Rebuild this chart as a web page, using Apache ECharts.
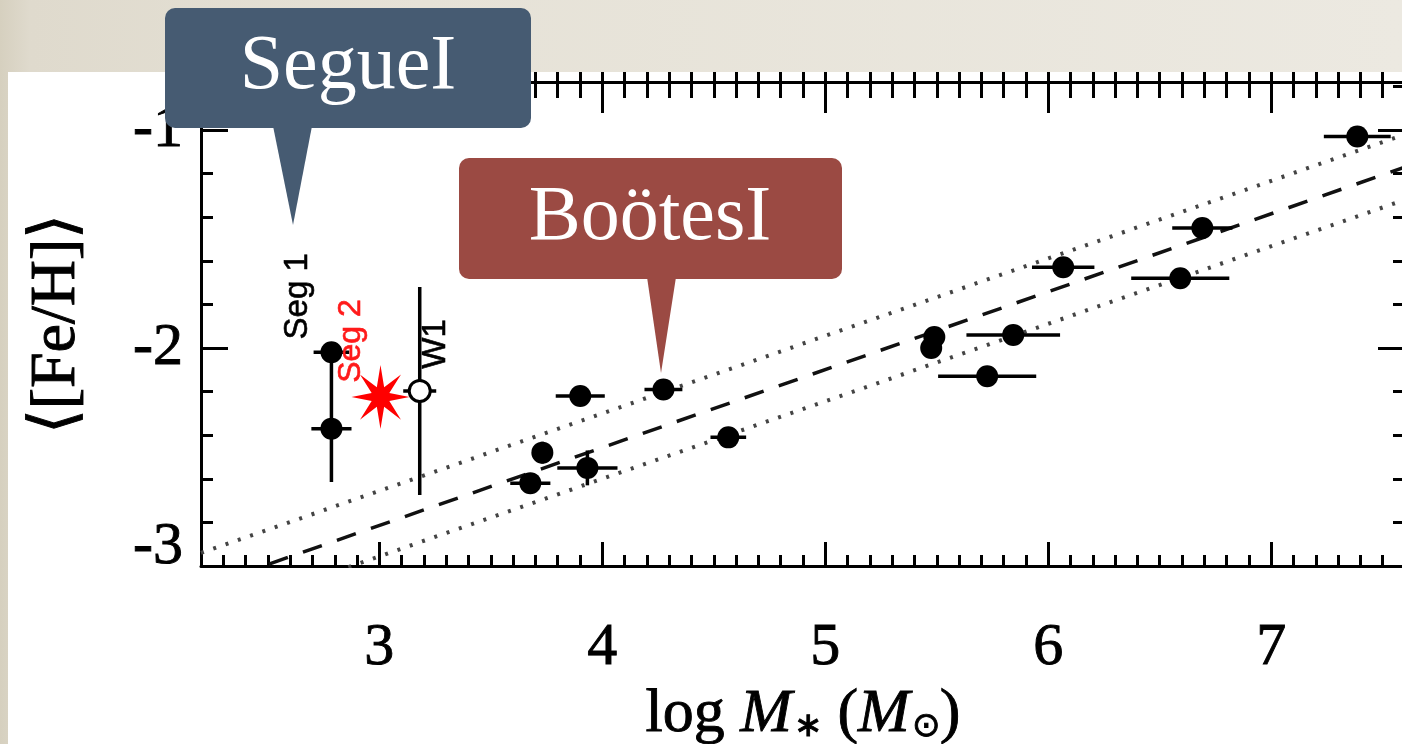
<!DOCTYPE html>
<html>
<head>
<meta charset="utf-8">
<script src="https://cdn.jsdelivr.net/npm/echarts@6/dist/echarts.min.js"></script>
<style>
html,body{margin:0;padding:0;width:1402px;height:744px;overflow:hidden;}
body{background:linear-gradient(90deg,#d6d0bf 0px,#dfdacd 30px,#e6e2d7 420px,#ece9e1 1402px);}
#panel{position:absolute;left:8px;top:72px;width:1394px;height:672px;background:#ffffff;}
#chart{position:absolute;left:0;top:0;width:1402px;height:744px;}
</style>
</head>
<body>
<div id="panel"></div>
<div id="chart"></div>
<script>
// ---- tick labels ----
const xTickValues = [3, 4, 5, 6, 7];
const yTickValues = [-3, -2, -1];

// ---- dwarf galaxies (filled circles) ----
const galaxyLogMass   = [2.785, 2.785, 3.901, 4.274, 3.731, 3.677, 3.933, 4.565, 5.475, 5.489, 5.843, 5.726, 6.067, 6.592, 6.691, 7.386];
const galaxyFeH       = [-2.02, -2.37, -2.22, -2.19, -2.48, -2.62, -2.55, -2.41, -2.00, -1.95, -1.94, -2.13, -1.63, -1.68, -1.45, -1.03];
const galaxyMassErr   = [0.08, 0.09, 0.11, 0.085, 0.03, 0.09, 0.135, 0.08, 0, 0, 0.21, 0.22, 0.14, 0.22, 0.135, 0.15];
const galaxyFeHErrLow = [0, 0.245, 0, 0, 0.05, 0, 0.08, 0, 0, 0, 0, 0, 0, 0, 0, 0];
const galaxyFeHErrHigh= [0, 0.345, 0, 0, 0.05, 0, 0.08, 0, 0, 0, 0, 0, 0, 0, 0, 0];

// ---- Segue 2 (red star) ----
const segue2LogMass = [3.005];
const segue2FeH     = [-2.225];

// ---- Willman 1 (open circle) ----
const willman1LogMass = [3.181];
const willman1FeH     = [-2.197];
const willman1MassErr = [0.074];
const willman1FeHErr  = [0.477];

// ---- mass-metallicity relation and its scatter ----
const relationLogMass = [2.2, 7.6];
const relationMean    = [-3.10, -1.17];
const relationUpper   = [-2.94, -1.02];
const relationLower   = [-3.24, -1.32];

const SERIF = '"Liberation Serif","Times New Roman",serif';
const SANS = '"Liberation Sans",Arial,sans-serif';

const errorBarData = galaxyLogMass.map((x, i) => [
  x, galaxyFeH[i], x - galaxyMassErr[i], x + galaxyMassErr[i],
  galaxyFeH[i] - galaxyFeHErrLow[i], galaxyFeH[i] + galaxyFeHErrHigh[i]
]).concat(willman1LogMass.map((x, i) => [
  x, willman1FeH[i], x - willman1MassErr[i], x + willman1MassErr[i],
  willman1FeH[i] - willman1FeHErr[i], willman1FeH[i] + willman1FeHErr[i]
]));

function pairs(xs, ys) { return xs.map((x, i) => [x, ys[i]]); }

function starPath(n, inner) {
  let d = '';
  for (let k = 0; k < 2 * n; k++) {
    const r = k % 2 === 0 ? 1 : inner;
    const a = Math.PI * k / n - Math.PI / 2;
    d += (k ? 'L' : 'M') + (50 + 50 * r * Math.cos(a)).toFixed(2) + ' ' + (50 + 50 * r * Math.sin(a)).toFixed(2) + ' ';
  }
  return 'path://' + d + 'Z';
}

const XMIN = 2.2, XMAX = 7.6, YMIN = -3, YMAX = -0.78;
const tickLine = { color: '#000', width: 3 };
const noLine = { show: false };
const heavy = { textBorderColor: '#000', textBorderWidth: 0.9 };

function xAx(extra) {
  return Object.assign({
    type: 'value', min: XMIN, max: XMAX, gridIndex: 0,
    splitLine: { show: false }, axisLabel: { show: false }, axisLine: noLine
  }, extra);
}
function yAx(extra) {
  return Object.assign({
    type: 'value', min: YMIN, max: YMAX, gridIndex: 0,
    splitLine: { show: false }, axisLabel: { show: false }, axisLine: noLine
  }, extra);
}

const chart = echarts.init(document.getElementById('chart'), null, { renderer: 'canvas' });

const option = {
  backgroundColor: 'transparent',
  animation: false,
  grid: { left: 201, top: 82, width: 1204, height: 484, containLabel: false, outerBoundsMode: 'none' },
  xAxis: [
    xAx({
      position: 'bottom',
      axisLine: { show: true, onZero: false, lineStyle: tickLine },
      axisTick: { inside: true, length: 24, customValues: xTickValues, lineStyle: tickLine },
      axisLabel: Object.assign({ show: true, customValues: xTickValues, fontFamily: SERIF, fontSize: 60, color: '#000', margin: 52 }, heavy),
      name: '{r|log }{i|M}{s|∗}{r| (}{i|M}{s|⊙}{r|)}',
      nameLocation: 'middle',
      nameGap: 86,
      nameTextStyle: {
        fontFamily: SERIF, fontSize: 62, color: '#000',
        rich: {
          r: Object.assign({ fontFamily: SERIF, fontSize: 62, color: '#000' }, heavy),
          i: Object.assign({ fontFamily: SERIF, fontSize: 62, fontStyle: 'italic', color: '#000' }, heavy),
          s: Object.assign({ fontFamily: SERIF, fontSize: 34, color: '#000', padding: [24, 0, 0, 2] }, heavy)
        }
      }
    }),
    xAx({ position: 'bottom', interval: 0.1, axisTick: { inside: true, length: 11, lineStyle: tickLine } }),
    xAx({ position: 'top', axisLine: { show: true, onZero: false, lineStyle: tickLine },
          axisTick: { inside: true, length: 31, customValues: xTickValues, lineStyle: tickLine } }),
    xAx({ position: 'top', interval: 0.1, axisTick: { inside: true, length: 16, lineStyle: tickLine } }),
    xAx({ position: 'top', interval: 0.1, axisTick: { inside: false, length: 10, lineStyle: tickLine } })
  ],
  yAxis: [
    yAx({
      position: 'left',
      axisLine: { show: true, onZero: false, lineStyle: tickLine },
      axisTick: { inside: true, length: 27, customValues: yTickValues, lineStyle: tickLine },
      axisLabel: {
        show: true, customValues: yTickValues, fontFamily: SERIF, fontSize: 60, color: '#000', margin: 18,
        formatter: function (v) { return v === YMIN ? '{lo|' + v + '}' : '{n|' + v + '}'; },
        rich: {
          n: Object.assign({ fontFamily: SERIF, fontSize: 60, color: '#000' }, heavy),
          lo: Object.assign({ fontFamily: SERIF, fontSize: 60, color: '#000', padding: [0, 0, 38, 0] }, heavy)
        }
      },
      name: '⟨[Fe/H]⟩',
      nameLocation: 'middle',
      nameRotate: 90,
      nameGap: 112,
      nameTextStyle: Object.assign({ fontFamily: SERIF, fontSize: 64, color: '#000' }, heavy)
    }),
    yAx({ position: 'left', interval: 0.2, axisTick: { inside: true, length: 12, lineStyle: tickLine } }),
    yAx({ position: 'right', axisLine: { show: true, onZero: false, lineStyle: tickLine },
          axisTick: { inside: true, length: 27, customValues: yTickValues, lineStyle: tickLine } }),
    yAx({ position: 'right', interval: 0.2, axisTick: { inside: true, length: 12, lineStyle: tickLine } })
  ],
  series: [
    { type: 'line', name: 'relation', data: pairs(relationLogMass, relationMean), xAxisIndex: 0, yAxisIndex: 0,
      symbol: 'none', clip: true, z: 1, lineStyle: { color: '#111', width: 3.5, type: [20, 16] } },
    { type: 'line', name: 'upper', data: pairs(relationLogMass, relationUpper), xAxisIndex: 0, yAxisIndex: 0,
      symbol: 'none', clip: true, z: 1, lineStyle: { color: '#444', width: 4, type: [3, 10] } },
    { type: 'line', name: 'lower', data: pairs(relationLogMass, relationLower), xAxisIndex: 0, yAxisIndex: 0,
      symbol: 'none', clip: true, z: 1, lineStyle: { color: '#444', width: 4, type: [3, 10] } },
    { type: 'custom', name: 'errors', data: errorBarData, xAxisIndex: 0, yAxisIndex: 0, clip: true, z: 2,
      renderItem: function (params, api) {
        const x = api.value(0), y = api.value(1);
        const xlo = api.value(2), xhi = api.value(3), ylo = api.value(4), yhi = api.value(5);
        const children = [];
        if (xhi > xlo) {
          const a = api.coord([xlo, y]), b = api.coord([xhi, y]);
          children.push({ type: 'line', shape: { x1: a[0], y1: a[1], x2: b[0], y2: b[1] }, style: { stroke: '#000', lineWidth: 3.5 } });
        }
        if (yhi > ylo) {
          const a = api.coord([x, ylo]), b = api.coord([x, yhi]);
          children.push({ type: 'line', shape: { x1: a[0], y1: a[1], x2: b[0], y2: b[1] }, style: { stroke: '#000', lineWidth: 3.5 } });
        }
        return { type: 'group', children: children };
      }
    },
    { type: 'scatter', name: 'dwarfs', data: pairs(galaxyLogMass, galaxyFeH), xAxisIndex: 0, yAxisIndex: 0,
      symbol: 'circle', symbolSize: 22, z: 3, itemStyle: { color: '#000', opacity: 1 } },
    { type: 'scatter', name: 'W1', data: pairs(willman1LogMass, willman1FeH), xAxisIndex: 0, yAxisIndex: 0,
      symbol: 'circle', symbolSize: 21, z: 3, itemStyle: { color: '#fff', borderColor: '#000', borderWidth: 3, opacity: 1 } },
    { type: 'scatter', name: 'Seg2', data: pairs(segue2LogMass, segue2FeH), xAxisIndex: 0, yAxisIndex: 0,
      symbol: starPath(8, 0.33), symbolSize: [58, 64], symbolKeepAspect: false, z: 4, itemStyle: { color: '#ff0000', opacity: 1 } }
  ]
};

chart.setOption(option);

const pSeg1 = chart.convertToPixel({ seriesIndex: 4 }, [galaxyLogMass[0], galaxyFeH[0]]);
const pSeg2 = chart.convertToPixel({ seriesIndex: 6 }, [segue2LogMass[0], segue2FeH[0]]);
const pW1 = chart.convertToPixel({ seriesIndex: 5 }, [willman1LogMass[0], willman1FeH[0]]);

function vText(txt, p, dx, dy, color, size) {
  return {
    type: 'text', x: p[0] + dx, y: p[1] + dy, rotation: Math.PI / 2, z: 50,
    style: { text: txt, fill: color, font: size + 'px ' + SANS, align: 'center', verticalAlign: 'middle',
             textAlign: 'center', textVerticalAlign: 'middle', stroke: color, lineWidth: 0.6 }
  };
}

const calloutFont = '78px ' + SERIF;
chart.setOption({
  graphic: [
    vText('Seg 1', pSeg1, -34, -56, '#000', 33),
    vText('Seg 2', pSeg2, -29, -56, '#ff1a1a', 32),
    vText('W1', pW1, 16, -47, '#000', 33),
    { type: 'polygon', z: 100, shape: { points: [[273, 126], [312, 126], [293, 225]] }, style: { fill: '#465b72' } },
    { type: 'rect', z: 100, shape: { x: 165, y: 8, width: 366, height: 120, r: 10 }, style: { fill: '#465b72' } },
    { type: 'text', z: 101, x: 348, y: 68, style: { text: 'SegueI', fill: '#ffffff', font: calloutFont,
        align: 'center', verticalAlign: 'middle', textAlign: 'center', textVerticalAlign: 'middle' } },
    { type: 'polygon', z: 100, shape: { points: [[647, 277], [676, 277], [661, 373]] }, style: { fill: '#9b4a43' } },
    { type: 'rect', z: 100, shape: { x: 459, y: 158, width: 383, height: 121, r: 10 }, style: { fill: '#9b4a43' } },
    { type: 'text', z: 101, x: 650, y: 219, style: { text: 'BoötesI', fill: '#ffffff', font: calloutFont,
        align: 'center', verticalAlign: 'middle', textAlign: 'center', textVerticalAlign: 'middle' } }
  ]
});
</script>
</body>
</html>
